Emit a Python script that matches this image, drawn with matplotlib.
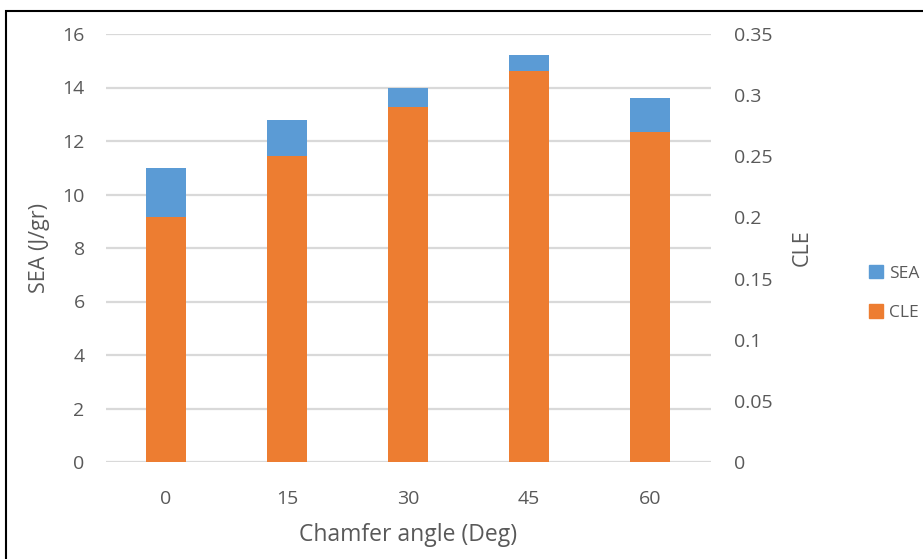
import matplotlib.pyplot as plt
from matplotlib.patches import Rectangle, Patch

angles = ["0", "15", "30", "45", "60"]
sea = [11.0, 12.8, 14.0, 15.2, 13.6]
cle = [0.20, 0.25, 0.29, 0.32, 0.27]

blue = "#5b9bd5"
orange = "#ed7d31"
text_c = "#595959"
grid_c = "#d9d9d9"

plt.rcParams["font.family"] = ["Open Sans", "DejaVu Sans"]

fig = plt.figure(figsize=(9.23, 5.59), dpi=100)
W, H = 923, 559
ax = fig.add_axes([105.5 / W, 1 - 462 / H, 605 / W, 428 / H])
ax2 = ax.twinx()

x = list(range(len(angles)))
ax.bar(x, sea, width=0.33, color=blue, zorder=2)
ax2.bar(x, cle, width=0.33, color=orange, zorder=2)

ax.set_xlim(-0.5, len(angles) - 0.5)
ax.set_ylim(0, 16)
ax.set_yticks(range(0, 17, 2))
ax2.set_ylim(0, 0.35)
ax2.set_yticks([0, 0.05, 0.1, 0.15, 0.2, 0.25, 0.3, 0.35])
ax2.set_yticklabels(["0", "0.05", "0.1", "0.15", "0.2", "0.25", "0.3", "0.35"])
ax.set_xticks(x)
ax.set_xticklabels(angles)

ax.grid(axis="y", color=grid_c, linewidth=1.6, zorder=0)
ax.set_axisbelow(True)
for a in (ax, ax2):
    for s in a.spines.values():
        s.set_visible(False)
    a.tick_params(length=0, labelsize=14, colors=text_c)
ax.tick_params(axis="y", pad=15)
ax2.tick_params(axis="y", pad=17)
ax.tick_params(axis="x", pad=20)

ax.set_xlabel("Chamfer angle (Deg)", fontsize=16.5, color=text_c, labelpad=11)
ax.set_ylabel("SEA (J/gr)", fontsize=15.5, color=text_c, labelpad=9)
ax2.set_ylabel("CLE", fontsize=15.5, color=text_c, labelpad=14)

handles = [Patch(color=blue, label="SEA"), Patch(color=orange, label="CLE")]
fig.legend(handles=handles, loc="center left", bbox_to_anchor=(853 / W, 1 - 293 / H),
           frameon=False, fontsize=12.5, labelcolor=text_c, handlelength=0.8,
           handleheight=0.8, handletextpad=0.35, labelspacing=1.3)

fig.patches.append(Rectangle((5.5 / W, -0.1), 1.2, 1 - 10.5 / H + 0.1,
                             transform=fig.transFigure, fill=False,
                             edgecolor="black", linewidth=1.5))

fig.savefig("out.png", dpi=100, facecolor="white")
